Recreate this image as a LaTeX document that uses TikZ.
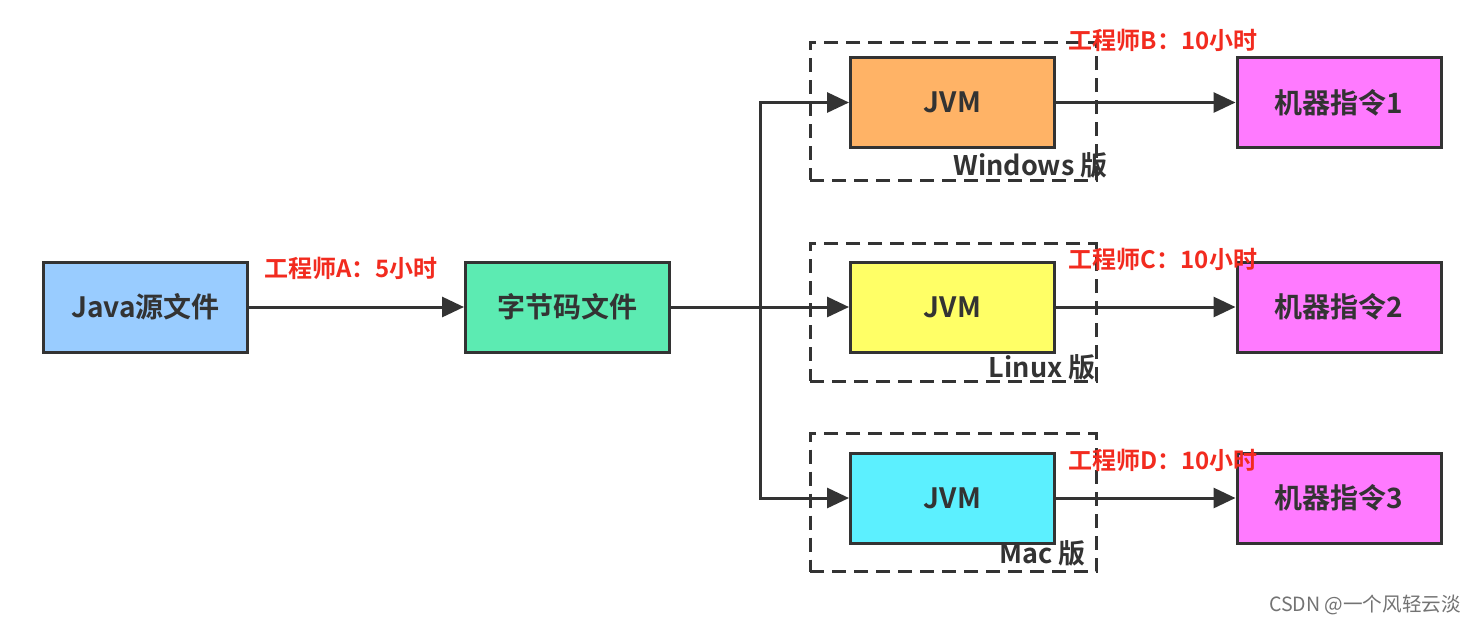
\documentclass[tikz,border=0pt]{standalone}
\usepackage{fontspec}
\setmainfont{Noto Sans CJK SC}[BoldFont={Noto Sans CJK SC Bold}]
\usetikzlibrary{arrows.meta}
\definecolor{cjava}{HTML}{99CCFF}
\definecolor{cbyte}{HTML}{5CEBB2}
\definecolor{cwin}{HTML}{FFB366}
\definecolor{clin}{HTML}{FFFF66}
\definecolor{cmac}{HTML}{5CF0FF}
\definecolor{cmach}{HTML}{FF7AFF}
\definecolor{cred}{HTML}{F22B1F}
\definecolor{cline}{HTML}{333333}
\tikzset{
  boxnode/.style={draw=cline, line width=1.5pt, minimum width=102pt, minimum height=45pt,
    inner sep=0pt, font=\bfseries\fontsize{14}{16}\selectfont, text=cline},
  groupnode/.style={draw=cline, line width=1.5pt, dash pattern=on 7pt off 4pt,
    minimum width=143pt, minimum height=69pt, inner sep=0pt},
  redlabel/.style={font=\bfseries\fontsize{12}{14}\selectfont, text=cred, inner sep=0pt},
  oslabel/.style={font=\bfseries\fontsize{13.5}{15}\selectfont, text=cline, inner sep=0pt},
  conn/.style={draw=cline, line width=1.5pt},
  arr/.style={conn, -{Triangle[length=11pt,width=10pt]}}
}
\begin{document}
\begin{tikzpicture}[x=0.5pt,y=-0.5pt]
\useasboundingbox (0,0) rectangle (1482,623);
\fill[white] (0,0) rectangle (1482,623);
% groups
\node[groupnode] (g1) at (953,111) {};
\node[groupnode] (g2) at (953,312) {};
\node[groupnode] (g3) at (953,502.5) {};
% boxes
\node[boxnode, fill=cjava] (java) at (145.5,307) {Java源文件};
\node[boxnode, fill=cbyte] (byte) at (567.5,307) {字节码文件};
\node[boxnode, fill=cwin] (jvm1) at (952.5,102.5) {JVM};
\node[boxnode, fill=clin] (jvm2) at (952.5,307) {JVM};
\node[boxnode, fill=cmac] (jvm3) at (952.5,498) {JVM};
\node[boxnode, fill=cmach] (m1) at (1339,102.5) {机器指令1};
\node[boxnode, fill=cmach] (m2) at (1339,307) {机器指令2};
\node[boxnode, fill=cmach] (m3) at (1339,498) {机器指令3};
% os labels
\node[oslabel, anchor=east] (w) at (1108,165) {Windows 版};
\node[oslabel, anchor=east] (l) at (1096,367) {Linux 版};
\node[oslabel, anchor=east] (mc) at (1086,553) {Mac 版};
% red labels
\node[redlabel] (la) at (351,268) {工程师A：5小时};
\node[redlabel] (lb) at (1163,40) {工程师B：10小时};
\node[redlabel] (lc) at (1163,259) {工程师C：10小时};
\node[redlabel] (ld) at (1163,460) {工程师D：10小时};
% connectors
\coordinate (split) at (760,307);
\draw[arr] (java.east) -- (byte.west);
\draw[conn] (byte.east) -- (split);
\draw[arr] (split) |- (jvm1.west);
\draw[arr] (split) -- (jvm2.west);
\draw[arr] (split) |- (jvm3.west);
\draw[arr] (jvm1.east) -- (m1.west);
\draw[arr] (jvm2.east) -- (m2.west);
\draw[arr] (jvm3.east) -- (m3.west);
% watermark
\node[font=\fontsize{9.8}{11}\selectfont, text=black!55, anchor=east] (wm) at (1468,605) {CSDN @一个风轻云淡};
\end{tikzpicture}
\end{document}
